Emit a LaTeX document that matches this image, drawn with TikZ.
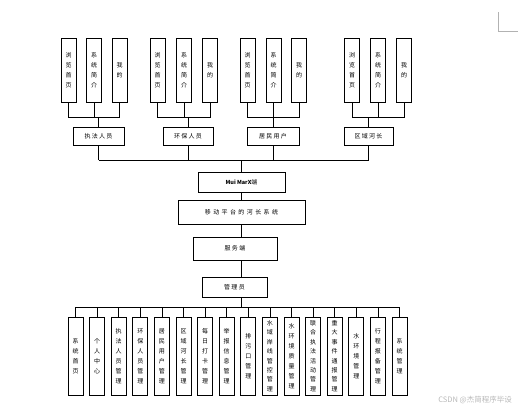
\documentclass[tikz,border=0pt]{standalone}
\usepackage{fontspec}
\newfontfamily\cjk{Noto Sans CJK SC}
\newfontfamily\cjkw[LetterSpace=22]{Noto Sans CJK SC}
\newfontfamily\cjkww[LetterSpace=40]{Noto Sans CJK SC}
\tikzset{
  box/.style={draw, line width=0.9pt, inner sep=0pt, align=center,
    font=\cjkw\fontsize{6}{10}\selectfont},
  leaf/.style={box, minimum width=15pt, minimum height=64pt,
    font=\cjk\fontsize{6}{10}\selectfont},
  bleaf/.style={box, minimum width=15pt, minimum height=78pt,
    font=\cjk\fontsize{6}{10}\selectfont},
  link/.style={line width=0.8pt},
  cornermark/.style={draw=black!30, line width=0.6pt}
}
\begin{document}
\begin{tikzpicture}[x=1pt,y=-1pt]
\useasboundingbox (0,0) rectangle (531,413);
% top leaves
\foreach \g/\a/\b/\c in {1/68.5/94/119.5, 2/157.5/184/210, 3/247.5/273.5/299, 4/352/378/404}{
  \node[leaf] (l\g a) at (\a,70) {浏\\览\\首\\页};
  \node[leaf] (l\g b) at (\b,70) {系\\统\\简\\介};
  \node[leaf] (l\g c) at (\c,70) {我\\的};
}
% roles
\node[box, minimum width=51pt, minimum height=18pt] (r1) at (98.5,136) {执法人员};
\node[box, minimum width=50pt, minimum height=18pt] (r2) at (188,136) {环保人员};
\node[box, minimum width=52pt, minimum height=18pt] (r3) at (273,136) {居民用户};
\node[box, minimum width=49pt, minimum height=18pt] (r4) at (368.5,136) {区域河长};
\coordinate (bus1) at (0,117);
\foreach \g in {1,2,3,4}{
  \draw[link] (l\g a.south) |- (r\g.north |- bus1) -- (r\g.north);
  \draw[link] (l\g b.south) -- (l\g b.south |- bus1);
  \draw[link] (l\g c.south) |- (r\g.north |- bus1);
}
% middle chain
\node[box, minimum width=87pt, minimum height=20pt, font=\cjk\fontsize{6}{10}\selectfont] (mui) at (241.5,182) {\textbf{\fontsize{5.5}{6}\selectfont Mui MarX}端};
\node[box, minimum width=127pt, minimum height=24pt, font=\cjkww\fontsize{6}{10}\selectfont] (ydpt) at (241.5,212) {移动平台的河长系统};
\node[box, minimum width=84pt, minimum height=23pt] (fwd) at (235,248.5) {服务端};
\node[box, minimum width=65pt, minimum height=20pt] (gly) at (234.5,287) {管理员};
\coordinate (bus2) at (241.5,160);
\foreach \g in {1,2,3,4}{
  \draw[link] (r\g.south) -- (r\g.south |- bus2);
}
\draw[link] (r1.south |- bus2) -- (r4.south |- bus2);
\draw[link] (bus2) -- (mui.north);
\draw[link] (mui.south) -- (mui.south |- ydpt.north);
\draw[link] (ydpt.south) -- (ydpt.south |- fwd.north);
\draw[link] (ydpt.south |- fwd.south) -- (ydpt.south |- gly.north);
% bottom leaves
\foreach \i/\t in {1/{系\\统\\首\\页}, 2/{个\\人\\中\\心}, 3/{执\\法\\人\\员\\管\\理},
  4/{环\\保\\人\\员\\管\\理}, 5/{居\\民\\用\\户\\管\\理}, 6/{区\\域\\河\\长\\管\\理},
  7/{每\\日\\打\\卡\\管\\理}, 8/{举\\报\\信\\息\\管\\理}, 9/{排\\污\\口\\管\\理},
  11/{水\\环\\境\\质\\量\\管\\理}, 14/{水\\环\\境\\管\\理}, 15/{行\\程\\报\\备\\管\\理},
  16/{系\\统\\管\\理}}{
  \node[bleaf] (m\i) at ({75.5+21.6*(\i-1)},356) {\t};
}
\foreach \i/\t in {10/{水\\域\\岸\\线\\管\\控\\管\\理}, 12/{联\\合\\执\\法\\活\\动\\管\\理},
  13/{重\\大\\事\\件\\通\\报\\管\\理}}{
  \node[bleaf, font=\cjk\fontsize{6}{9.4}\selectfont] (m\i) at ({75.5+21.6*(\i-1)},356) {\t};
}
\coordinate (bus3) at (241.5,307);
\draw[link] (ydpt.south |- gly.south) -- (bus3);
\draw[link] (m1.north |- bus3) -- (m16.north |- bus3);
\foreach \i in {1,...,16}{
  \draw[link] (m\i.north |- bus3) -- (m\i.north);
}
% corner mark and watermark
\draw[cornermark] (498,12) -- (498,31) -- (518,31);
\node[font=\cjk\fontsize{7.5}{9}\selectfont, text=black!28, anchor=east, inner sep=0pt] (wm) at (512,400) {CSDN @杰简程序毕设};
\end{tikzpicture}
\end{document}
